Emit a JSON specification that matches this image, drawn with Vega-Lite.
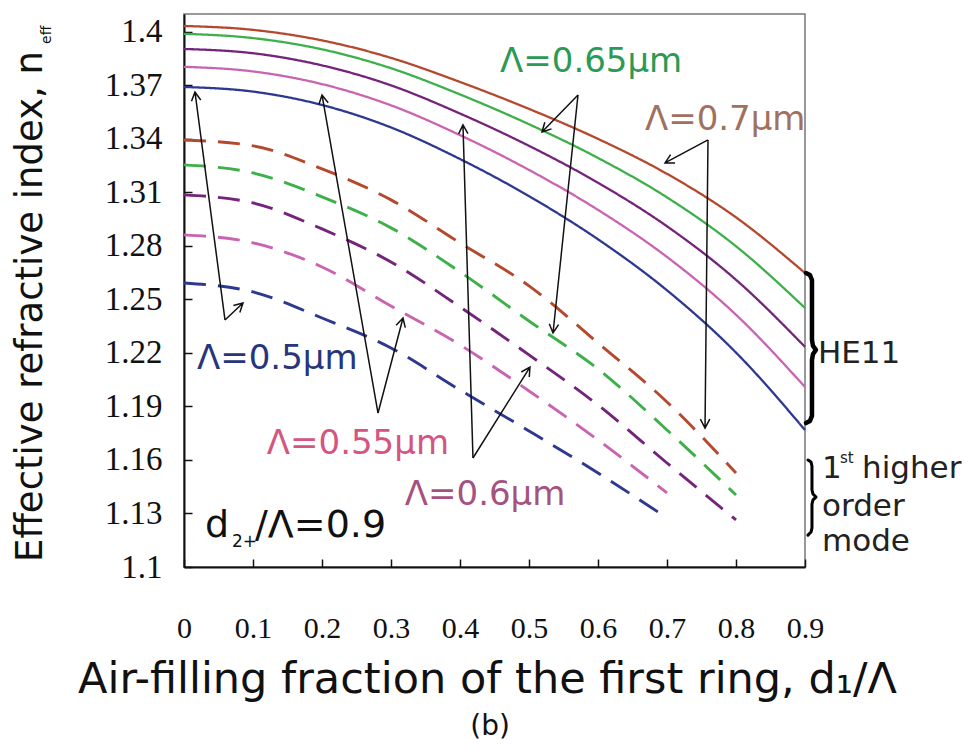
{
  "$schema": "https://vega.github.io/schema/vega-lite/v6.json",
  "width": 621,
  "height": 553,
  "autosize": {"type": "none"},
  "padding": {"left": 184, "top": 14, "right": 164, "bottom": 188},
  "background": "white",
  "config": {"view": {"stroke": "#777", "strokeWidth": 1.5}, "font": "DejaVu Sans"},
  "datasets": {
    "curves": [
      {"lam": "0.7", "mode": "HE11", "x": 0, "y": 1.4033}, {"lam": "0.7", "mode": "HE11", "x": 0.1, "y": 1.4011}, {"lam": "0.7", "mode": "HE11", "x": 0.2, "y": 1.3952}, {"lam": "0.7", "mode": "HE11", "x": 0.3, "y": 1.3854}, {"lam": "0.7", "mode": "HE11", "x": 0.4, "y": 1.3719}, {"lam": "0.7", "mode": "HE11", "x": 0.5, "y": 1.3568}, {"lam": "0.7", "mode": "HE11", "x": 0.6, "y": 1.34}, {"lam": "0.7", "mode": "HE11", "x": 0.7, "y": 1.3204}, {"lam": "0.7", "mode": "HE11", "x": 0.8, "y": 1.296}, {"lam": "0.7", "mode": "HE11", "x": 0.9, "y": 1.2648},
      {"lam": "0.65", "mode": "HE11", "x": 0, "y": 1.3989}, {"lam": "0.65", "mode": "HE11", "x": 0.1, "y": 1.3965}, {"lam": "0.65", "mode": "HE11", "x": 0.2, "y": 1.3902}, {"lam": "0.65", "mode": "HE11", "x": 0.3, "y": 1.3796}, {"lam": "0.65", "mode": "HE11", "x": 0.4, "y": 1.3649}, {"lam": "0.65", "mode": "HE11", "x": 0.5, "y": 1.3482}, {"lam": "0.65", "mode": "HE11", "x": 0.6, "y": 1.3293}, {"lam": "0.65", "mode": "HE11", "x": 0.7, "y": 1.3072}, {"lam": "0.65", "mode": "HE11", "x": 0.8, "y": 1.2798}, {"lam": "0.65", "mode": "HE11", "x": 0.9, "y": 1.2452},
      {"lam": "0.6", "mode": "HE11", "x": 0, "y": 1.3904}, {"lam": "0.6", "mode": "HE11", "x": 0.1, "y": 1.388}, {"lam": "0.6", "mode": "HE11", "x": 0.2, "y": 1.3812}, {"lam": "0.6", "mode": "HE11", "x": 0.3, "y": 1.37}, {"lam": "0.6", "mode": "HE11", "x": 0.4, "y": 1.3542}, {"lam": "0.6", "mode": "HE11", "x": 0.5, "y": 1.3361}, {"lam": "0.6", "mode": "HE11", "x": 0.6, "y": 1.3154}, {"lam": "0.6", "mode": "HE11", "x": 0.7, "y": 1.291}, {"lam": "0.6", "mode": "HE11", "x": 0.8, "y": 1.261}, {"lam": "0.6", "mode": "HE11", "x": 0.9, "y": 1.2234},
      {"lam": "0.55", "mode": "HE11", "x": 0, "y": 1.3804}, {"lam": "0.55", "mode": "HE11", "x": 0.1, "y": 1.3778}, {"lam": "0.55", "mode": "HE11", "x": 0.2, "y": 1.3707}, {"lam": "0.55", "mode": "HE11", "x": 0.3, "y": 1.3588}, {"lam": "0.55", "mode": "HE11", "x": 0.4, "y": 1.3421}, {"lam": "0.55", "mode": "HE11", "x": 0.5, "y": 1.3226}, {"lam": "0.55", "mode": "HE11", "x": 0.6, "y": 1.3002}, {"lam": "0.55", "mode": "HE11", "x": 0.7, "y": 1.2738}, {"lam": "0.55", "mode": "HE11", "x": 0.8, "y": 1.2414}, {"lam": "0.55", "mode": "HE11", "x": 0.9, "y": 1.2009},
      {"lam": "0.5", "mode": "HE11", "x": 0, "y": 1.3691}, {"lam": "0.5", "mode": "HE11", "x": 0.1, "y": 1.3665}, {"lam": "0.5", "mode": "HE11", "x": 0.2, "y": 1.359}, {"lam": "0.5", "mode": "HE11", "x": 0.3, "y": 1.3464}, {"lam": "0.5", "mode": "HE11", "x": 0.4, "y": 1.3287}, {"lam": "0.5", "mode": "HE11", "x": 0.5, "y": 1.3079}, {"lam": "0.5", "mode": "HE11", "x": 0.6, "y": 1.2837}, {"lam": "0.5", "mode": "HE11", "x": 0.7, "y": 1.2551}, {"lam": "0.5", "mode": "HE11", "x": 0.8, "y": 1.2202}, {"lam": "0.5", "mode": "HE11", "x": 0.9, "y": 1.1768},
      {"lam": "0.7", "mode": "higher", "x": 0, "y": 1.3394}, {"lam": "0.7", "mode": "higher", "x": 0.1, "y": 1.3361}, {"lam": "0.7", "mode": "higher", "x": 0.2, "y": 1.3232}, {"lam": "0.7", "mode": "higher", "x": 0.3, "y": 1.3058}, {"lam": "0.7", "mode": "higher", "x": 0.4, "y": 1.2817}, {"lam": "0.7", "mode": "higher", "x": 0.5, "y": 1.2576}, {"lam": "0.7", "mode": "higher", "x": 0.6, "y": 1.2256}, {"lam": "0.7", "mode": "higher", "x": 0.7, "y": 1.1925}, {"lam": "0.7", "mode": "higher", "x": 0.8, "y": 1.1527},
      {"lam": "0.65", "mode": "higher", "x": 0, "y": 1.3254}, {"lam": "0.65", "mode": "higher", "x": 0.1, "y": 1.3209}, {"lam": "0.65", "mode": "higher", "x": 0.2, "y": 1.3075}, {"lam": "0.65", "mode": "higher", "x": 0.3, "y": 1.2901}, {"lam": "0.65", "mode": "higher", "x": 0.4, "y": 1.2654}, {"lam": "0.65", "mode": "higher", "x": 0.5, "y": 1.2379}, {"lam": "0.65", "mode": "higher", "x": 0.6, "y": 1.211}, {"lam": "0.65", "mode": "higher", "x": 0.7, "y": 1.1768}, {"lam": "0.65", "mode": "higher", "x": 0.8, "y": 1.1404},
      {"lam": "0.6", "mode": "higher", "x": 0, "y": 1.3086}, {"lam": "0.6", "mode": "higher", "x": 0.1, "y": 1.3041}, {"lam": "0.6", "mode": "higher", "x": 0.2, "y": 1.2895}, {"lam": "0.6", "mode": "higher", "x": 0.3, "y": 1.271}, {"lam": "0.6", "mode": "higher", "x": 0.4, "y": 1.2458}, {"lam": "0.6", "mode": "higher", "x": 0.5, "y": 1.2189}, {"lam": "0.6", "mode": "higher", "x": 0.6, "y": 1.1908}, {"lam": "0.6", "mode": "higher", "x": 0.7, "y": 1.1583}, {"lam": "0.6", "mode": "higher", "x": 0.8, "y": 1.1264},
      {"lam": "0.55", "mode": "higher", "x": 0, "y": 1.2862}, {"lam": "0.55", "mode": "higher", "x": 0.1, "y": 1.2817}, {"lam": "0.55", "mode": "higher", "x": 0.2, "y": 1.2682}, {"lam": "0.55", "mode": "higher", "x": 0.3, "y": 1.2463}, {"lam": "0.55", "mode": "higher", "x": 0.4, "y": 1.2245}, {"lam": "0.55", "mode": "higher", "x": 0.5, "y": 1.1987}, {"lam": "0.55", "mode": "higher", "x": 0.6, "y": 1.1712}, {"lam": "0.55", "mode": "higher", "x": 0.7, "y": 1.1415},
      {"lam": "0.5", "mode": "higher", "x": 0, "y": 1.2592}, {"lam": "0.5", "mode": "higher", "x": 0.1, "y": 1.2542}, {"lam": "0.5", "mode": "higher", "x": 0.2, "y": 1.2396}, {"lam": "0.5", "mode": "higher", "x": 0.3, "y": 1.2228}, {"lam": "0.5", "mode": "higher", "x": 0.4, "y": 1.1992}, {"lam": "0.5", "mode": "higher", "x": 0.5, "y": 1.1763}, {"lam": "0.5", "mode": "higher", "x": 0.6, "y": 1.1527}, {"lam": "0.5", "mode": "higher", "x": 0.7, "y": 1.1275}
    ],
    "arrows": [
      {"id": "A1", "o": 0, "x": 0.0594, "y": 1.2385}, {"id": "A1", "o": 1, "x": 0.0159, "y": 1.3663}, {"id": "A1", "o": 2, "x": 0.0109, "y": 1.3611}, {"id": "A1", "o": 3, "x": 0.0159, "y": 1.3663}, {"id": "A1", "o": 4, "x": 0.0243, "y": 1.3618},
      {"id": "A2", "o": 0, "x": 0.0594, "y": 1.2385}, {"id": "A2", "o": 1, "x": 0.0855, "y": 1.248}, {"id": "A2", "o": 2, "x": 0.0716, "y": 1.2466}, {"id": "A2", "o": 3, "x": 0.0855, "y": 1.248}, {"id": "A2", "o": 4, "x": 0.0809, "y": 1.2427},
      {"id": "B1", "o": 0, "x": 0.2812, "y": 1.1863}, {"id": "B1", "o": 1, "x": 0.2, "y": 1.3646}, {"id": "B1", "o": 2, "x": 0.1955, "y": 1.3593}, {"id": "B1", "o": 3, "x": 0.2, "y": 1.3646}, {"id": "B1", "o": 4, "x": 0.209, "y": 1.3602},
      {"id": "B2", "o": 0, "x": 0.2812, "y": 1.1863}, {"id": "B2", "o": 1, "x": 0.3174, "y": 1.2396}, {"id": "B2", "o": 2, "x": 0.3075, "y": 1.2355}, {"id": "B2", "o": 3, "x": 0.3174, "y": 1.2396}, {"id": "B2", "o": 4, "x": 0.3207, "y": 1.2342},
      {"id": "C1", "o": 0, "x": 0.4188, "y": 1.1611}, {"id": "C1", "o": 1, "x": 0.4043, "y": 1.3478}, {"id": "C1", "o": 2, "x": 0.398, "y": 1.3428}, {"id": "C1", "o": 3, "x": 0.4043, "y": 1.3478}, {"id": "C1", "o": 4, "x": 0.4116, "y": 1.343},
      {"id": "C2", "o": 0, "x": 0.4188, "y": 1.1611}, {"id": "C2", "o": 1, "x": 0.5014, "y": 1.2121}, {"id": "C2", "o": 2, "x": 0.4888, "y": 1.2093}, {"id": "C2", "o": 3, "x": 0.5014, "y": 1.2121}, {"id": "C2", "o": 4, "x": 0.5004, "y": 1.2065},
      {"id": "D1", "o": 0, "x": 0.571, "y": 1.3646}, {"id": "D1", "o": 1, "x": 0.5188, "y": 1.3439}, {"id": "D1", "o": 2, "x": 0.5326, "y": 1.3456}, {"id": "D1", "o": 3, "x": 0.5188, "y": 1.3439}, {"id": "D1", "o": 4, "x": 0.5229, "y": 1.3493},
      {"id": "D2", "o": 0, "x": 0.571, "y": 1.3646}, {"id": "D2", "o": 1, "x": 0.5348, "y": 1.2312}, {"id": "D2", "o": 2, "x": 0.5429, "y": 1.2359}, {"id": "D2", "o": 3, "x": 0.5348, "y": 1.2312}, {"id": "D2", "o": 4, "x": 0.5294, "y": 1.2364},
      {"id": "E1", "o": 0, "x": 0.7594, "y": 1.3394}, {"id": "E1", "o": 1, "x": 0.6971, "y": 1.3265}, {"id": "E1", "o": 2, "x": 0.7116, "y": 1.3265}, {"id": "E1", "o": 3, "x": 0.6971, "y": 1.3265}, {"id": "E1", "o": 4, "x": 0.7052, "y": 1.3312},
      {"id": "E2", "o": 0, "x": 0.7594, "y": 1.3394}, {"id": "E2", "o": 1, "x": 0.7551, "y": 1.1779}, {"id": "E2", "o": 2, "x": 0.762, "y": 1.1829}, {"id": "E2", "o": 3, "x": 0.7551, "y": 1.1779}, {"id": "E2", "o": 4, "x": 0.7484, "y": 1.1829}
    ],
    "braceA": [
      {"o": 0, "x": 0.9014, "y": 1.2648}, {"o": 1, "x": 0.9072, "y": 1.2637}, {"o": 2, "x": 0.9101, "y": 1.2609}, {"o": 3, "x": 0.9101, "y": 1.2273}, {"o": 4, "x": 0.9116, "y": 1.2239}, {"o": 5, "x": 0.9159, "y": 1.2217}, {"o": 6, "x": 0.9116, "y": 1.2194}, {"o": 7, "x": 0.9101, "y": 1.2161}, {"o": 8, "x": 0.9101, "y": 1.1847}, {"o": 9, "x": 0.9072, "y": 1.1819}, {"o": 10, "x": 0.9014, "y": 1.1807}
    ],
    "braceB": [
      {"o": 0, "x": 0.9043, "y": 1.16}, {"o": 1, "x": 0.9087, "y": 1.1589}, {"o": 2, "x": 0.9101, "y": 1.1566}, {"o": 3, "x": 0.9101, "y": 1.1432}, {"o": 4, "x": 0.9116, "y": 1.1409}, {"o": 5, "x": 0.9159, "y": 1.1392}, {"o": 6, "x": 0.9116, "y": 1.1376}, {"o": 7, "x": 0.9101, "y": 1.1353}, {"o": 8, "x": 0.9101, "y": 1.1219}, {"o": 9, "x": 0.9087, "y": 1.1196}, {"o": 10, "x": 0.9043, "y": 1.1179}
    ]
  },
  "encoding": {
    "x": {
      "field": "x", "type": "quantitative",
      "scale": {"domain": [0, 0.9], "nice": false, "zero": false},
      "axis": {
        "values": [0, 0.1, 0.2, 0.3, 0.4, 0.5, 0.6, 0.7, 0.8, 0.9], "format": ".1~f",
        "title": "Air-filling fraction of the first ring, d₁/Λ",
        "titleFont": "DejaVu Sans", "titleFontSize": 43, "titleFontWeight": "normal", "titleColor": "#111",
        "titleX": 303, "titleY": 125, "titleBaseline": "alphabetic", "titleAlign": "center",
        "labelFont": "Liberation Serif", "labelFontSize": 30, "labelColor": "#111", "labelPadding": 54,
        "labelFlush": false, "labelOverlap": false,
        "tickSize": -8, "tickColor": "#111", "tickWidth": 1.5,
        "domainColor": "#111", "domainWidth": 2, "grid": false
      }
    },
    "y": {
      "field": "y", "type": "quantitative",
      "scale": {"domain": [1.1, 1.41], "nice": false, "zero": false},
      "axis": {
        "values": [1.1, 1.13, 1.16, 1.19, 1.22, 1.25, 1.28, 1.31, 1.34, 1.37, 1.4], "format": ".2~f",
        "title": "Effective refractive index, n",
        "titleFont": "DejaVu Sans", "titleFontSize": 37, "titleFontWeight": "normal", "titleColor": "#111",
        "titleX": -143, "titleY": 292, "titleBaseline": "alphabetic", "titleAlign": "center", "titleAngle": 270,
        "labelFont": "Liberation Serif", "labelFontSize": 33, "labelColor": "#111", "labelPadding": 30,
        "labelFlush": false, "labelOverlap": false,
        "tickSize": -8, "tickColor": "#111", "tickWidth": 1.5,
        "domainColor": "#111", "domainWidth": 2, "grid": false
      }
    }
  },
  "layer": [
    {
      "data": {"name": "curves"},
      "mark": {"type": "line", "interpolate": "monotone"},
      "encoding": {
        "color": {"field": "lam", "type": "nominal", "legend": null,
          "scale": {"domain": ["0.5", "0.55", "0.6", "0.65", "0.7"], "range": ["#2d3990", "#c864b0", "#74247a", "#3db04a", "#b4492e"]}},
        "strokeDash": {"field": "mode", "type": "nominal", "legend": null,
          "scale": {"domain": ["HE11", "higher"], "range": [[1, 0], [22, 12]]}},
        "strokeWidth": {"field": "mode", "type": "nominal", "legend": null,
          "scale": {"domain": ["HE11", "higher"], "range": [2.3, 2.9]}}
      }
    },
    {
      "data": {"name": "arrows"},
      "mark": {"type": "line", "color": "#111", "strokeWidth": 1.5, "strokeJoin": "miter"},
      "encoding": {"detail": {"field": "id"}, "order": {"field": "o", "type": "quantitative"}}
    },
    {
      "data": {"name": "braceA"},
      "mark": {"type": "line", "color": "#000", "strokeWidth": 4.5, "strokeJoin": "round", "strokeCap": "round"},
      "encoding": {"order": {"field": "o", "type": "quantitative"}}
    },
    {
      "data": {"name": "braceB"},
      "mark": {"type": "line", "color": "#000", "strokeWidth": 3, "strokeJoin": "round", "strokeCap": "round"},
      "encoding": {"order": {"field": "o", "type": "quantitative"}}
    },
    {
      "data": {"values": [{"x": 0.458, "y": 1.3776, "t": "Λ=0.65μm"}]},
      "mark": {"type": "text", "align": "left", "baseline": "alphabetic", "font": "DejaVu Sans", "fontSize": 34, "color": "#2a9a55"},
      "encoding": {"text": {"field": "t"}}
    },
    {
      "data": {"values": [{"x": 0.668, "y": 1.345, "t": "Λ=0.7μm"}]},
      "mark": {"type": "text", "align": "left", "baseline": "alphabetic", "font": "DejaVu Sans", "fontSize": 34, "color": "#a27060"},
      "encoding": {"text": {"field": "t"}}
    },
    {
      "data": {"values": [{"x": 0.0188, "y": 1.211, "t": "Λ=0.5μm"}]},
      "mark": {"type": "text", "align": "left", "baseline": "alphabetic", "font": "DejaVu Sans", "fontSize": 34, "color": "#27357d"},
      "encoding": {"text": {"field": "t"}}
    },
    {
      "data": {"values": [{"x": 0.12, "y": 1.1634, "t": "Λ=0.55μm"}]},
      "mark": {"type": "text", "align": "left", "baseline": "alphabetic", "font": "DejaVu Sans", "fontSize": 34, "color": "#d4557f"},
      "encoding": {"text": {"field": "t"}}
    },
    {
      "data": {"values": [{"x": 0.32, "y": 1.1348, "t": "Λ=0.6μm"}]},
      "mark": {"type": "text", "align": "left", "baseline": "alphabetic", "font": "DejaVu Sans", "fontSize": 34, "color": "#a5527e"},
      "encoding": {"text": {"field": "t"}}
    },
    {
      "data": {"values": [{"x": 0.0304, "y": 1.1168, "t": "d"}, {"x": 0.1029, "y": 1.1168, "t": "/Λ=0.9"}]},
      "mark": {"type": "text", "align": "left", "baseline": "alphabetic", "font": "DejaVu Sans", "fontSize": 38, "color": "#111"},
      "encoding": {"text": {"field": "t"}}
    },
    {
      "data": {"values": [{"x": 0.0696, "y": 1.1112, "t": "2+"}]},
      "mark": {"type": "text", "align": "left", "baseline": "alphabetic", "font": "DejaVu Sans", "fontSize": 17, "color": "#111"},
      "encoding": {"text": {"field": "t"}}
    },
    {
      "data": {"values": [{"x": 0.9188, "y": 1.2144, "t": "HE11"}, {"x": 0.9246, "y": 1.1499, "t": "1"}, {"x": 0.9826, "y": 1.1499, "t": "higher"}, {"x": 0.9246, "y": 1.1286, "t": "order"}, {"x": 0.9246, "y": 1.109, "t": "mode"}]},
      "mark": {"type": "text", "align": "left", "baseline": "alphabetic", "font": "DejaVu Sans", "fontSize": 31, "color": "#222"},
      "encoding": {"text": {"field": "t"}}
    },
    {
      "data": {"values": [{"x": 0.9507, "y": 1.1583, "t": "st"}]},
      "mark": {"type": "text", "align": "left", "baseline": "alphabetic", "font": "DejaVu Sans", "fontSize": 15, "color": "#222"},
      "encoding": {"text": {"field": "t"}}
    },
    {
      "data": {"values": [{"x": 0.4435, "y": 1.0058, "t": "(b)"}]},
      "mark": {"type": "text", "align": "center", "baseline": "alphabetic", "font": "DejaVu Sans", "fontSize": 28, "color": "#111"},
      "encoding": {"text": {"field": "t"}}
    },
    {
      "data": {"values": [{"x": -0.1928, "y": 1.3932, "t": "eff"}]},
      "mark": {"type": "text", "align": "left", "baseline": "alphabetic", "font": "DejaVu Sans", "fontSize": 14, "angle": 270, "color": "#111"},
      "encoding": {"text": {"field": "t"}}
    }
  ]
}
